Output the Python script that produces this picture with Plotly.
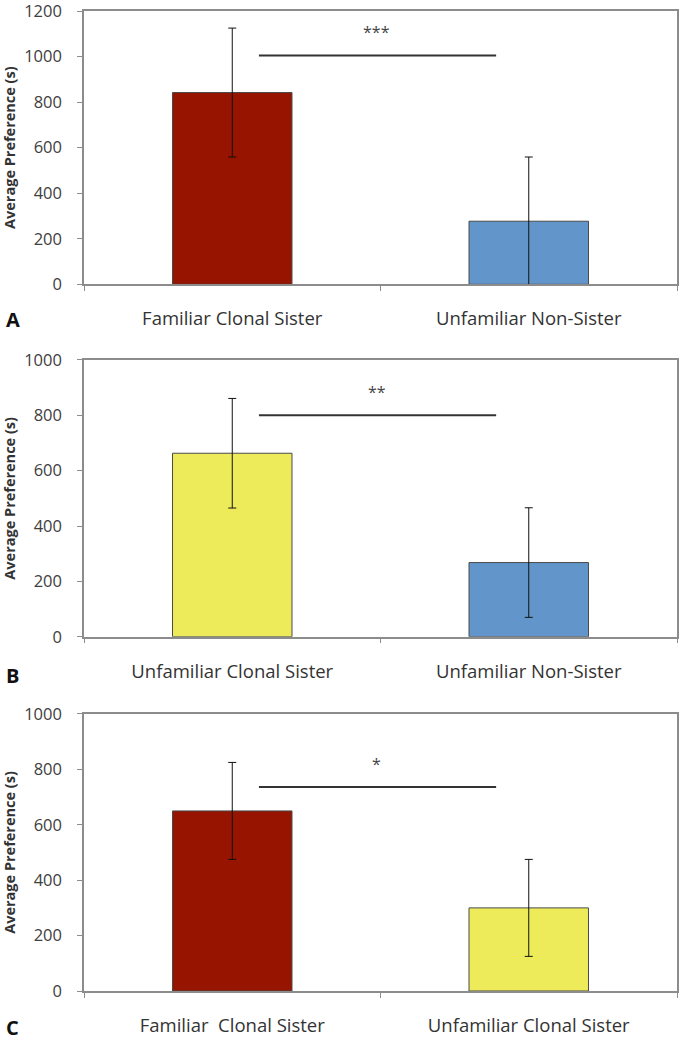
import plotly.graph_objects as go
from plotly.subplots import make_subplots

# ---- data ----
cats_a = ["Familiar Clonal Sister", "Unfamiliar Non-Sister"]
vals_a = [842, 277]
err_a = [283, 282]

cats_b = ["Unfamiliar Clonal Sister", "Unfamiliar Non-Sister"]
vals_b = [663, 268]
err_b = [198, 198]

cats_c = ["Familiar\u00a0 Clonal Sister", "Unfamiliar Clonal Sister"]
vals_c = [650, 300]
err_c = [175, 175]

sig_y = [1005, 800, 736]
sig_star_y = [1108, 884, 820]
sig_labels = ["***", "**", "*"]
panel_labels = ["A", "B", "C"]
y_max = [1200, 1000, 1000]

RED = "#961400"
BLUE = "#6296CB"
YELLOW = "#EDEB5A"
colors = [[RED, BLUE], [YELLOW, BLUE], [RED, YELLOW]]

FONT = "Open Sans"
GRID = "#8c8c8c"

fig = make_subplots(rows=3, cols=1)

panels = [(cats_a, vals_a, err_a), (cats_b, vals_b, err_b), (cats_c, vals_c, err_c)]
for i, (cats, vals, errs) in enumerate(panels):
    fig.add_trace(go.Bar(
        x=cats, y=vals, width=0.403,
        marker=dict(color=colors[i], line=dict(color="#4a4a4a", width=1)),
        error_y=dict(type="data", array=errs, visible=True, color="#111111",
                     thickness=1, width=4),
        showlegend=False,
    ), row=i + 1, col=1)

domains = [[0.7211, 1.0], [0.3615, 0.6439], [0.0, 0.2827]]
label_y = [0.6857, 0.3219, -0.0372]

for i in range(3):
    xa = "xaxis" if i == 0 else f"xaxis{i+1}"
    ya = "yaxis" if i == 0 else f"yaxis{i+1}"
    fig.layout[xa].update(
        domain=[0, 1], range=[-0.5, 1.5], type="category", automargin=False,
        showline=True, linecolor=GRID, linewidth=1.5, mirror=True,
        ticks="outside", tickson="boundaries", ticklen=5, tickcolor=GRID,
        tickfont=dict(family=FONT, size=18.5, color="#333333"),
        ticklabelstandoff=17, ticklabeloverflow="allow",
        showgrid=False, zeroline=False,
    )
    fig.layout[ya].update(
        domain=domains[i], range=[0, y_max[i]], dtick=200, automargin=False,
        showline=True, linecolor=GRID, linewidth=1.5, mirror=True,
        ticks="outside", ticklen=5, tickcolor=GRID,
        tickfont=dict(family=FONT, size=16.5, color="#404040"),
        ticklabelstandoff=12, ticklabeloverflow="allow",
        showgrid=False, zeroline=False,
        title=dict(text="<b>Average Preference (s)</b>",
                   font=dict(family=FONT, size=14.5, color="#333333"),
                   standoff=8),
    )
    xref = "x" if i == 0 else f"x{i+1}"
    yref = "y" if i == 0 else f"y{i+1}"
    fig.add_shape(type="line", xref=xref, yref=yref,
                  x0=0.09, x1=0.89, y0=sig_y[i], y1=sig_y[i],
                  line=dict(color="#333333", width=2))
    fig.add_annotation(xref=xref, yref=yref, x=0.487, y=sig_star_y[i],
                       text=sig_labels[i], showarrow=False,
                       font=dict(family=FONT, size=16, color="#444444"))
    fig.add_annotation(xref="paper", yref="paper", x=-0.12, y=label_y[i],
                       text=f"<b>{panel_labels[i]}</b>", showarrow=False,
                       xanchor="center", yanchor="middle",
                       font=dict(family=FONT, size=20, color="#111111"))

fig.update_layout(
    width=680, height=1039,
    margin=dict(l=84, r=3, t=11, b=48),
    paper_bgcolor="white", plot_bgcolor="white",
    bargap=0.6,
)

post = ("document.documentElement.style.margin='0';"
        "document.body.style.margin='0';document.body.style.padding='0';"
        "document.body.style.overflow='hidden';"
        "var gd=document.getElementById('{plot_id}');"
        "Plotly.relayout(gd,{width:680,height:1039});")

fig.write_html("out.html", post_script=post, config={"displayModeBar": False})
